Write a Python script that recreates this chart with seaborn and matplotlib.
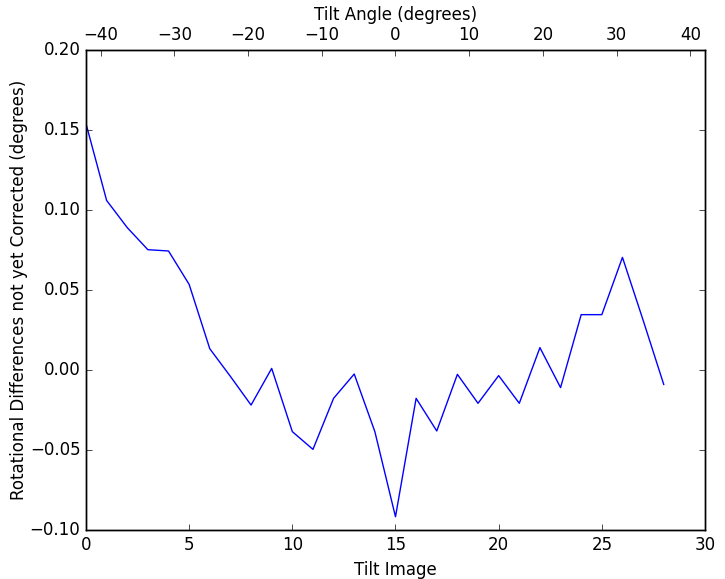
import matplotlib
matplotlib.use("Agg")
import matplotlib.pyplot as plt
from matplotlib.ticker import MultipleLocator
import numpy as np
import pandas as pd
import seaborn as sns

# Per-image residual rotation (degrees)
tilt_image = list(range(29))
tilt_angle = list(range(-42, 43, 3))
rot_diff = [
    0.154, 0.106, 0.089, 0.0752, 0.0744, 0.0535, 0.0133, -0.004, -0.0219, 0.001,
    -0.0385, -0.0496, -0.0177, -0.0025, -0.0385, -0.0917, -0.0177, -0.0381, -0.0027, -0.0208,
    -0.0035, -0.0208, 0.014, -0.011, 0.0346, 0.0346, 0.0704, 0.0312, -0.009,
]

plt.style.use("classic")

df = pd.DataFrame({"image": tilt_image, "angle": tilt_angle, "diff": rot_diff})

fig, ax = plt.subplots(figsize=(7.25, 5.79), dpi=100)
fig.patch.set_facecolor("white")
fig.subplots_adjust(left=0.1186, right=0.9724, top=0.9136, bottom=0.0846)

sns.lineplot(data=df, x="image", y="diff", ax=ax, color="b", linewidth=1.0)
ax.set_xlim(0, 30)
ax.set_ylim(-0.10, 0.20)
ax.set_xlabel("Tilt Image")
ax.set_ylabel("Rotational Differences not yet Corrected (degrees)", labelpad=1)

# secondary axis for the tilt angle
ax2 = ax.twiny()
ax2.set_xlim(min(tilt_angle), max(tilt_angle))
ax2.xaxis.set_major_locator(MultipleLocator(10))
ax2.set_xlabel("Tilt Angle (degrees)")

fig.savefig("out.png", dpi=100, facecolor="white")
